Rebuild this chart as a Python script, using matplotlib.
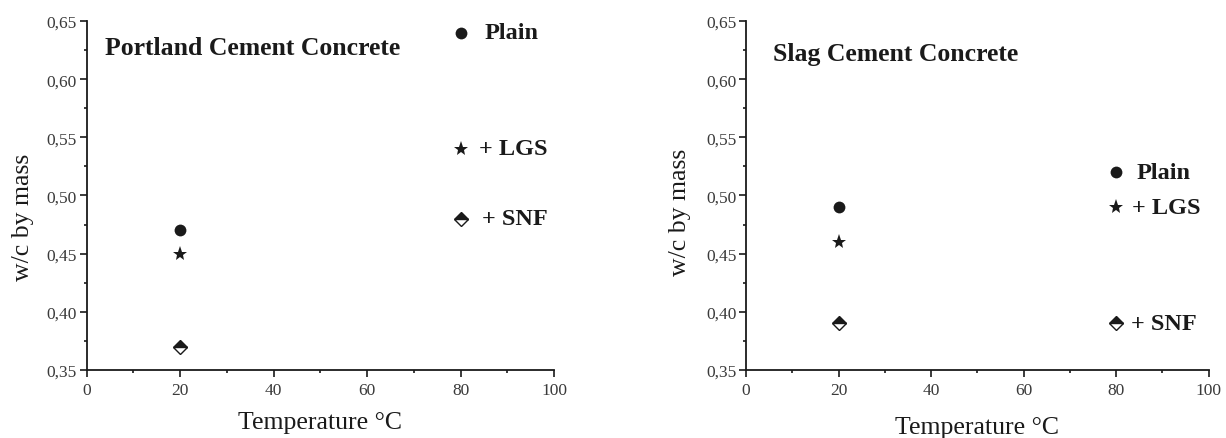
import matplotlib
matplotlib.use("Agg")
import matplotlib.pyplot as plt
from matplotlib.ticker import MultipleLocator, FuncFormatter

plt.rcParams['font.family'] = ['Liberation Serif', 'DejaVu Serif']

temps = [20, 80]
series_names = ["Plain", "+ LGS", "+ SNF"]

portland_plain = [0.47, 0.64]
portland_lgs = [0.45, 0.54]
portland_snf = [0.37, 0.48]

slag_plain = [0.49, 0.52]
slag_lgs = [0.46, 0.49]
slag_snf = [0.39, 0.39]

titles = ["Portland Cement Concrete", "Slag Cement Concrete"]
xlabel = "Temperature °C"
ylabel = "w/c by mass"

fig = plt.figure(figsize=(12.26, 4.39), dpi=100)
ax1 = fig.add_axes([0.0706, 0.1549, 0.3813, 0.795])
ax2 = fig.add_axes([0.6085, 0.1549, 0.3773, 0.795])

ink = '#1a1a1a'
tickcol = '#3a3a3a'

def fmt_comma(v, pos):
    return ("%.2f" % v).replace('.', ',')

def style(ax, title, title_xy, ylab_xy, xlab_y):
    ax.set_xlim(0, 100)
    ax.set_ylim(0.35, 0.65)
    for s in ['top', 'right']:
        ax.spines[s].set_visible(False)
    for s in ['left', 'bottom']:
        ax.spines[s].set_linewidth(1.3)
        ax.spines[s].set_color(ink)
    ax.xaxis.set_major_locator(MultipleLocator(20))
    ax.xaxis.set_minor_locator(MultipleLocator(10))
    ax.yaxis.set_major_locator(MultipleLocator(0.05))
    ax.yaxis.set_minor_locator(MultipleLocator(0.025))
    ax.yaxis.set_major_formatter(FuncFormatter(fmt_comma))
    ax.tick_params(which='major', direction='out', length=5, width=1.2,
                   color=ink, labelsize=12.5, labelcolor=tickcol)
    ax.tick_params(axis='x', which='major', pad=4)
    ax.tick_params(axis='y', which='major', pad=2)
    ax.tick_params(which='minor', direction='out', length=2.5, width=1.2, color=ink)
    ax.set_xlabel(xlabel, fontsize=18.5, color=ink, va='center')
    ax.xaxis.set_label_coords(0.5, xlab_y)
    ax.set_ylabel(ylabel, fontsize=18.5, color=ink, va='center')
    ax.yaxis.set_label_coords(ylab_xy[0], ylab_xy[1])
    ax.text(title_xy[0], title_xy[1], title, fontsize=18.5, fontweight='bold',
            color=ink, va='center', ha='left')

def draw(ax, plain, lgs, snf, offsets):
    ax.plot(temps, plain, linestyle='none', marker='o', ms=8.5, color=ink,
            markeredgewidth=0, clip_on=False)
    ax.plot(temps, lgs, linestyle='none', marker='*', ms=11, color=ink,
            markeredgewidth=0, clip_on=False)
    ax.plot(temps, snf, linestyle='none', marker='D', ms=7, color=ink,
            fillstyle='top', markerfacecoloralt='white', markeredgecolor=ink,
            markeredgewidth=1.0, clip_on=False)
    for name, vals, off in zip(series_names, [plain, lgs, snf], offsets):
        ax.annotate(name, xy=(temps[1], vals[1]), xytext=(off, 0),
                    textcoords='offset points', va='center', ha='left',
                    fontsize=17.5, fontweight='bold', color=ink)

style(ax1, titles[0], (4.0, 0.627), (-0.136, 0.44), -0.149)
draw(ax1, portland_plain, portland_lgs, portland_snf, [17, 13, 15.5])
style(ax2, titles[1], (5.8, 0.622), (-0.143, 0.455), -0.163)
draw(ax2, slag_plain, slag_lgs, slag_snf, [15, 11.5, 11])

fig.savefig("out.png", dpi=100)
